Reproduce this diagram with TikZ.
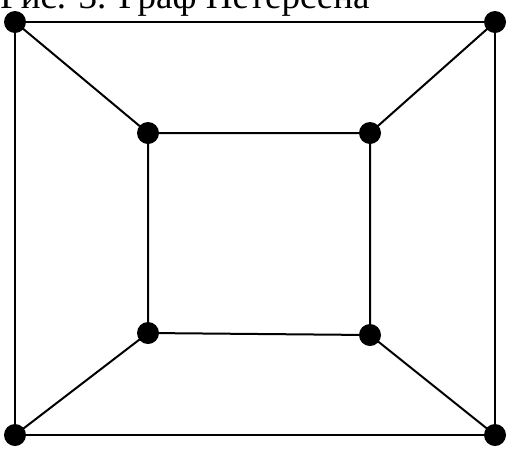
\documentclass[tikz,border=0pt]{standalone}
\usepackage{fontspec}
\setmainfont{Liberation Serif}
\begin{document}
\begin{tikzpicture}[x=1pt,y=-1pt,
  vtx/.style={circle,fill=black,inner sep=0pt,minimum size=22pt},
  edge/.style={line width=2pt}]
\useasboundingbox (0,0) rectangle (509,448);
\node[anchor=base west,inner sep=0pt,font=\fontsize{37}{40}\selectfont] (title) at (0,8) {Рис. 3. Граф Петерсена};
\node[vtx] (o1) at (15,22) {};
\node[vtx] (o2) at (495,22) {};
\node[vtx] (o3) at (495,435) {};
\node[vtx] (o4) at (15,435) {};
\node[vtx] (i1) at (148,133) {};
\node[vtx] (i2) at (370,133) {};
\node[vtx] (i3) at (370,335) {};
\node[vtx] (i4) at (148,333) {};
\draw[edge] (o1.center) -- (o2.center) -- (o3.center) -- (o4.center) -- cycle;
\draw[edge] (i1.center) -- (i2.center) -- (i3.center) -- (i4.center) -- cycle;
\draw[edge] (o1.center) -- (i1.center);
\draw[edge] (o2.center) -- (i2.center);
\draw[edge] (o3.center) -- (i3.center);
\draw[edge] (o4.center) -- (i4.center);
\end{tikzpicture}
\end{document}
